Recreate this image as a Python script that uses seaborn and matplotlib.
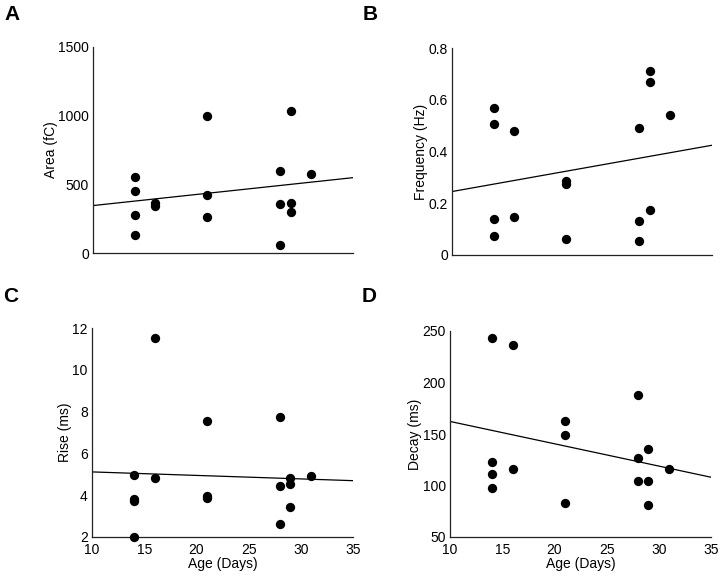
import numpy as np
import pandas as pd
import matplotlib
matplotlib.use('Agg')
import matplotlib.pyplot as plt
from matplotlib.ticker import FuncFormatter
import seaborn as sns

# ages of the recorded cells (days)
age = [14, 14, 14, 14, 16, 16, 21, 21, 21, 28, 28, 28, 29, 29, 29, 31]

area = [550, 455, 280, 130, 365, 345, 1000, 420, 265, 600, 355, 60, 1035, 365, 295, 575]
freq = [0.57, 0.505, 0.14, 0.075, 0.48, 0.145, 0.285, 0.275, 0.06, 0.49, 0.13, 0.055, 0.71, 0.67, 0.175, 0.54]
rise = [4.95, 3.8, 3.7, 2.0, 11.5, 4.8, 7.55, 3.95, 3.85, 7.75, 4.45, 2.6, 4.8, 4.55, 3.45, 4.9]
decay = [243, 123, 111, 98, 236, 116, 163, 149, 83, 188, 127, 104, 135, 104, 81, 116]

panels = ['A', 'B', 'C', 'D']
ylabels = ['Area (fC)', 'Frequency (Hz)', 'Rise (ms)', 'Decay (ms)']
yticks = [[0, 500, 1000, 1500], [0, 0.2, 0.4, 0.6, 0.8], [2, 4, 6, 8, 10, 12], [50, 100, 150, 200, 250]]
xticks = [10, 15, 20, 25, 30, 35]

df = pd.DataFrame({'age': age, 'area': area, 'freq': freq, 'rise': rise, 'decay': decay})
cols = ['area', 'freq', 'rise', 'decay']

sns.set_style('white')
plt.rcParams['font.family'] = ['Liberation Sans', 'DejaVu Sans']

fig = plt.figure(figsize=(7.2, 5.77), dpi=100)
W, H = 720, 577
# axes boxes in pixels: left, top, right, bottom
boxes = [(93, 47, 353, 253), (452, 48, 712, 255), (92, 328, 353, 537), (450, 331, 711, 537)]
letters_pos = [(4, 15), (363, 15), (3, 296), (362, 296)]

for i, col in enumerate(cols):
    l, t, r, b = boxes[i]
    ax = fig.add_axes([l / W, 1 - b / H, (r - l) / W, (b - t) / H])
    ax.set_xlim(10, 35)
    ax.set_ylim(yticks[i][0], yticks[i][-1])
    sns.regplot(data=df, x='age', y=col, ax=ax, scatter=False, ci=None, truncate=False,
                line_kws={'color': 'black', 'lw': 0.9})
    sns.scatterplot(data=df, x='age', y=col, ax=ax, color='black', s=45, edgecolor='black',
                    linewidth=0, clip_on=False, zorder=5)
    ax.set_xlim(10, 35)
    ax.set_ylim(yticks[i][0], yticks[i][-1])
    ax.set_xticks(xticks)
    ax.set_yticks(yticks[i])
    ax.yaxis.set_major_formatter(FuncFormatter(lambda v, p: '%g' % v))
    for s in ['top', 'right']:
        ax.spines[s].set_visible(False)
    for s in ['left', 'bottom']:
        ax.spines[s].set_linewidth(0.9)
        ax.spines[s].set_color('#222222')
    ax.tick_params(direction='in', length=4, width=0.8, labelsize=10, colors='#222222',
                   labelcolor='black', pad=3)
    ax.tick_params(axis='x', pad=4)
    ax.set_ylabel(ylabels[i], fontsize=10, color='black', labelpad=0)
    if i < 2:
        ax.set_xlabel('')
        ax.tick_params(axis='x', labelbottom=False)
    else:
        ax.set_xlabel('Age (Days)', fontsize=10, color='black', labelpad=0)
    fig.text(letters_pos[i][0] / W, 1 - letters_pos[i][1] / H, panels[i], fontsize=15,
             fontweight='bold', va='center', ha='left', color='black')

fig.savefig('out.png', dpi=100)
